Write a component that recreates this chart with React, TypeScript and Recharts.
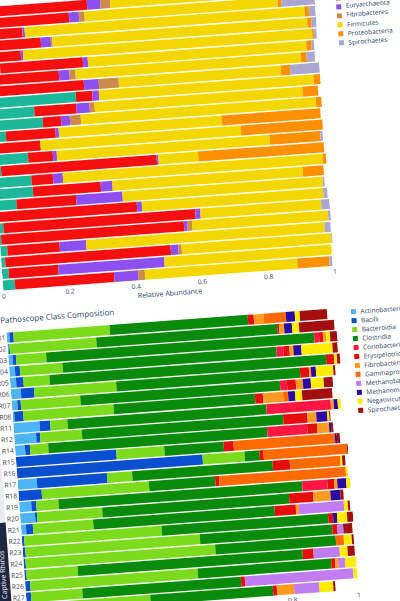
import React from 'react';
import { BarChart, Bar, XAxis, YAxis } from 'recharts';

// ---- top panel: phylum composition (rows listed top -> bottom) ----
const phylumRows = [
  'P25', 'P24', 'P23', 'P22', 'P21', 'P20', 'P19', 'P18', 'P17', 'P16', 'P15', 'P14', 'P13',
  'P12', 'P11', 'P10', 'P09', 'P08', 'P07', 'P06', 'P05', 'P04', 'P03', 'P02', 'P01',
];
const phyActino = [0, 0, 0, 0, 0, 0.04, 0.03, 0, 0.261, 0.133, 0.156, 0.042, 0, 0.104, 0.02, 0.109, 0.111, 0.059, 0, 0.014, 0.005, 0.021, 0.012, 0.02, 0.036];
const phyBactero = [0.315, 0.258, 0.115, 0.168, 0.105, 0.25, 0.185, 0.288, 0.05, 0.127, 0.055, 0.15, 0.144, 0.075, 0.47, 0.065, 0.205, 0.18, 0.42, 0.58, 0.552, 0.158, 0.5, 0.15, 0.3];
const phyEuryarch = [0.04, 0.03, 0.007, 0.03, 0.007, 0.015, 0.032, 0.045, 0.02, 0.04, 0.027, 0.01, 0, 0.012, 0.005, 0.03, 0.035, 0.14, 0.015, 0.015, 0.01, 0.08, 0.023, 0.32, 0.073];
const phyFibro = [0.03, 0.017, 0, 0.005, 0, 0, 0.018, 0.06, 0, 0.015, 0.033, 0, 0, 0, 0, 0, 0, 0, 0, 0, 0.015, 0, 0.01, 0, 0.02];
const phyFirmi = [0.59, 0.583, 0.845, 0.77, 0.873, 0.66, 0.68, 0.49, 0.648, 0.628, 0.71, 0.492, 0.605, 0.643, 0.12, 0.785, 0.575, 0.605, 0.548, 0.365, 0.41, 0.72, 0.452, 0.505, 0.46];
const phyProteo = [0.01, 0.012, 0.013, 0.012, 0.005, 0.015, 0.018, 0.028, 0.02, 0.047, 0.017, 0.298, 0.247, 0.153, 0.38, 0.01, 0.063, 0, 0, 0, 0, 0, 0, 0, 0.097];
const phySpiro = [0.015, 0.1, 0.02, 0.015, 0.008, 0.008, 0.025, 0.088, 0, 0, 0, 0, 0, 0.007, 0, 0, 0, 0.005, 0.012, 0.025, 0.008, 0.018, 0.003, 0, 0.008];

const phylumNames = ['Actinobacteria', 'Bacteroidetes', 'Euryarchaeota', 'Fibrobacteres', 'Firmicutes', 'Proteobacteria', 'Spirochaetes'];
const phylumColors = ['#1db89a', '#f5100f', '#8e4ff0', '#cd8a4a', '#f5d700', '#ff9000', '#aba7d3'];
const phylumSeries = [phyActino, phyBactero, phyEuryarch, phyFibro, phyFirmi, phyProteo, phySpiro];

// ---- bottom panel: pathoscope class composition ----
const sampleRows = ['R01', 'R02', 'R03', 'R04', 'R05', 'R06', 'R07', 'R08', 'R11', 'R12', 'R14', 'R15', 'R16', 'R17', 'R18', 'R19', 'R20', 'R21', 'R22', 'R23', 'R24', 'R25', 'R26', 'R27', 'R28'];
const clsActino = [0.008, 0.003, 0.013, 0.017, 0.018, 0.03, 0.017, 0.005, 0.079, 0.066, 0.03, 0, 0, 0.058, 0, 0.036, 0.045, 0.015, 0, 0, 0, 0, 0, 0, 0];
const clsBacilli = [0.012, 0.003, 0.01, 0.015, 0.022, 0.04, 0.01, 0.027, 0.032, 0.012, 0.015, 0.303, 0.561, 0.212, 0.07, 0.015, 0.006, 0.021, 0.007, 0.008, 0.006, 0.006, 0.015, 0.015, 0.015];
const clsBacteroidia = [0.291, 0.262, 0.091, 0.129, 0.079, 0.248, 0.18, 0.273, 0.052, 0.126, 0.055, 0.145, 0.127, 0.076, 0.324, 0.067, 0.197, 0.182, 0.415, 0.527, 0.573, 0.155, 0.506, 0.155, 0.358];
const clsClostridia = [0.417, 0.546, 0.809, 0.646, 0.835, 0.555, 0.603, 0.427, 0.601, 0.608, 0.661, 0.179, 0.045, 0.424, 0.2, 0.736, 0.564, 0.548, 0.503, 0.4, 0.364, 0.679, 0.403, 0.479, 0.37];
const clsCorio = [0, 0, 0.015, 0.021, 0, 0, 0.021, 0, 0.194, 0, 0.121, 0, 0, 0, 0, 0.076, 0, 0, 0, 0, 0, 0, 0, 0, 0];
const clsErysip = [0.018, 0.006, 0.012, 0.018, 0.024, 0.027, 0.027, 0.024, 0, 0.073, 0.03, 0.03, 0.012, 0.052, 0.012, 0.021, 0.073, 0.064, 0.015, 0.015, 0, 0.033, 0.012, 0.012, 0.012];
const clsFibro = [0.03, 0.015, 0.009, 0.012, 0, 0.006, 0.021, 0.061, 0.009, 0.027, 0.036, 0, 0, 0, 0, 0.009, 0.052, 0.009, 0, 0, 0, 0, 0.009, 0, 0.052];
const clsGamma = [0.067, 0, 0, 0, 0, 0, 0, 0.015, 0, 0, 0, 0.306, 0.252, 0.152, 0.382, 0, 0, 0, 0, 0, 0.024, 0, 0, 0, 0];
const clsMethanobact = [0, 0, 0, 0, 0, 0, 0, 0, 0, 0, 0, 0, 0, 0, 0, 0, 0, 0.136, 0, 0.018, 0, 0.079, 0.021, 0.327, 0.076];
const clsMethanomicro = [0.027, 0.024, 0, 0.024, 0, 0.015, 0.024, 0.021, 0.012, 0.033, 0.006, 0.006, 0, 0, 0, 0.027, 0.03, 0, 0.012, 0, 0, 0, 0, 0, 0];
const clsNegativ = [0.015, 0.021, 0.012, 0.094, 0.009, 0.052, 0.039, 0.021, 0.009, 0.006, 0, 0, 0, 0.006, 0.006, 0.012, 0, 0.012, 0.03, 0, 0.024, 0.024, 0.036, 0.015, 0.042];
const clsSpiro = [0.082, 0.106, 0.021, 0.015, 0.009, 0.006, 0.027, 0.091, 0, 0.003, 0.006, 0.009, 0.006, 0.009, 0, 0, 0.009, 0.006, 0.018, 0.027, 0.006, 0.021, 0, 0, 0.006];

const classNames = [
  'Actinobacteria', 'Bacilli', 'Bacteroidia', 'Clostridia', 'Coriobacteriia', 'Erysipelotrichia',
  'Fibrobacteria', 'Gammaproteobacteria', 'Methanobacteria', 'Methanomicrobia', 'Negativicutes', 'Spirochaetia',
];
const classColors = ['#4cb5f5', '#0a4fcf', '#7ddb1e', '#0b8b0b', '#ff1744', '#e50d0d', '#ff9b21', '#ff6a00', '#c07cf0', '#2b0aa3', '#ffec00', '#a30e0e'];
const classSeries = [clsActino, clsBacilli, clsBacteroidia, clsClostridia, clsCorio, clsErysip, clsFibro, clsGamma, clsMethanobact, clsMethanomicro, clsNegativ, clsSpiro];

const abundanceTicks = [0, 0.2, 0.4, 0.6, 0.8, 1];

function buildRows(cats: string[], series: number[][]) {
  return cats.map((name, i) => {
    const row: Record<string, string | number> = { name };
    series.forEach((s, j) => { row['s' + j] = s[i]; });
    return row;
  });
}

const phylumData = buildRows(phylumRows, phylumSeries);
const classData = buildRows(sampleRows, classSeries);

const FONT = "'Open Sans', 'DejaVu Sans', sans-serif";
const INK = '#2a3f5f';

// the photographed figure is tilted; everything is laid out flat, then turned
const TILT = -4.25;
const TOP_PITCH = 11.4;
const BOT_PITCH = 11.33;
const TOP_PLOT_H = phylumRows.length * TOP_PITCH;
const BOT_PLOT_H = sampleRows.length * BOT_PITCH;
const ANCHOR = { x: 60, y: 30 + TOP_PLOT_H - TOP_PITCH / 2 }; // left-centre of lowest phylum bar
const PLACE = { x: 2.7, y: 285 }; // where that point sits on the page
const R01_Y = ANCHOR.y + 52.2; // centre of first class bar
const BOT_TOP = R01_Y - BOT_PITCH / 2 - 10;

const Legend: React.FC<{ names: string[]; colors: string[]; x: number; y: number; step: number }> = ({ names, colors, x, y, step }) => (
  <>
    {names.map((n, i) => (
      <div key={n} style={{ position: 'absolute', left: x - 2.5, top: y + i * step - 5, height: 10, display: 'flex', alignItems: 'center', whiteSpace: 'nowrap' }}>
        <span style={{ width: 5, height: 5, background: colors[i], display: 'inline-block' }} />
        <span style={{ marginLeft: 5, fontSize: 6.5, color: INK, fontFamily: FONT, lineHeight: '10px' }}>{n}</span>
      </div>
    ))}
  </>
);

export default function App() {
  return (
    <div style={{ position: 'fixed', left: 0, top: 0, width: 400, height: 601, overflow: 'hidden', background: '#fff' }}>
      <div
        style={{
          position: 'absolute',
          left: PLACE.x - ANCHOR.x,
          top: PLACE.y - ANCHOR.y,
          width: 560,
          height: 720,
          transformOrigin: `${ANCHOR.x}px ${ANCHOR.y}px`,
          transform: `rotate(${TILT}deg)`,
        }}
      >
        {/* phylum panel */}
        <div style={{ position: 'absolute', left: 0, top: 0 }}>
          <BarChart width={397} height={30 + TOP_PLOT_H + 30} data={phylumData} layout="vertical" barCategoryGap="7%" margin={{ top: 30, right: 5, bottom: 0, left: 0 }}>
            <XAxis type="number" domain={[0, 1]} ticks={abundanceTicks} allowDataOverflow height={30} tickSize={0} tickMargin={3} axisLine={false} tick={{ fontSize: 6.5, fill: INK, fontFamily: FONT }} />
            <YAxis type="category" dataKey="name" width={60} tick={false} axisLine={false} tickLine={false} />
            {phylumNames.map((n, j) => (
              <Bar key={n} dataKey={'s' + j} name={n} stackId="a" fill={phylumColors[j]} isAnimationActive={false} />
            ))}
          </BarChart>
        </div>
        <div style={{ position: 'absolute', left: 60, width: 332, top: ANCHOR.y + 20.2 - 4, textAlign: 'center', fontSize: 7, lineHeight: '8px', color: INK, fontFamily: FONT }}>
          Relative Abundance
        </div>
        <Legend names={phylumNames} colors={phylumColors} x={415} y={ANCHOR.y - 271.2} step={9.1} />

        {/* class panel */}
        <div style={{ position: 'absolute', left: 54.6, top: R01_Y - 17.4 - 5, fontSize: 8, lineHeight: '10px', color: INK, fontFamily: FONT, whiteSpace: 'nowrap' }}>
          Pathoscope Class Composition
        </div>
        <div style={{ position: 'absolute', left: 33, top: R01_Y - 6, width: 12, height: 190, background: '#e8ecf3' }} />
        <div style={{ position: 'absolute', left: 33, top: R01_Y + 184, width: 12, height: 200, background: '#1c2541' }} />
        <div style={{ position: 'absolute', left: 39, top: R01_Y + 236, width: 0, height: 0 }}>
          <div style={{ position: 'absolute', transform: 'translate(-50%, -50%) rotate(-90deg)', color: '#fff', fontSize: 7, fontFamily: FONT, whiteSpace: 'nowrap', lineHeight: '8px' }}>
            Captive Rhinos
          </div>
        </div>
        <div style={{ position: 'absolute', left: 0, top: BOT_TOP }}>
          <BarChart width={397} height={10 + BOT_PLOT_H + 30} data={classData} layout="vertical" barCategoryGap="8%" margin={{ top: 10, right: 5, bottom: 0, left: 0 }}>
            <XAxis type="number" domain={[0, 1]} ticks={abundanceTicks} allowDataOverflow height={30} tickSize={0} tickMargin={3} axisLine={false} tick={{ fontSize: 6.5, fill: INK, fontFamily: FONT }} />
            <YAxis type="category" dataKey="name" width={60} interval={0} tickSize={0} tickMargin={1.5} axisLine={false} tickLine={false} tick={{ fontSize: 6.8, fill: '#444', fontFamily: FONT }} />
            {classNames.map((n, j) => (
              <Bar key={n} dataKey={'s' + j} name={n} stackId="b" fill={classColors[j]} isAnimationActive={false} />
            ))}
          </BarChart>
        </div>
        <Legend names={classNames} colors={classColors} x={407} y={R01_Y} step={9} />
      </div>
    </div>
  );
}
